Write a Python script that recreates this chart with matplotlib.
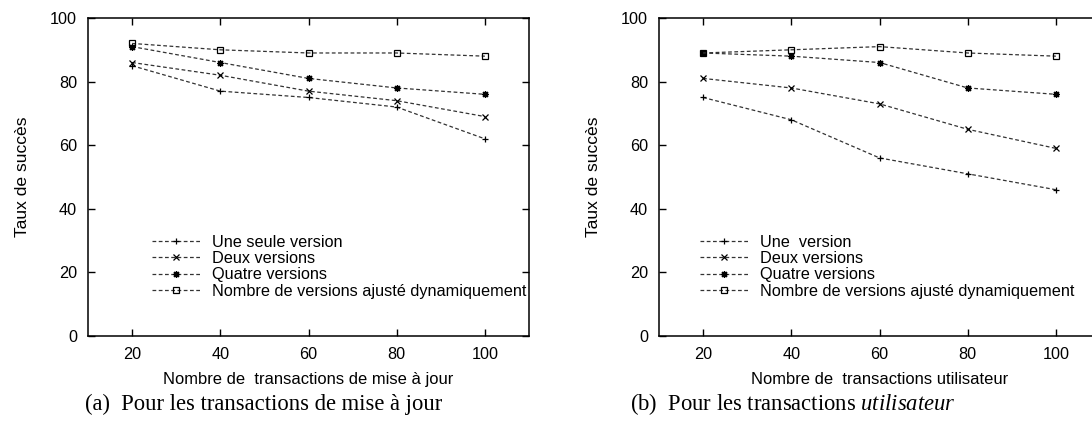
import numpy as np
import matplotlib
matplotlib.use("Agg")
import matplotlib.pyplot as plt

# =============================================================================
# DATA
# =============================================================================
x_vals = [20, 40, 60, 80, 100]

# (a) update transactions
maj_une = [85, 77, 75, 72, 62]
maj_deux = [86, 82, 77, 74, 69]
maj_quatre = [91, 86, 81, 78, 76]
maj_dyn = [92, 90, 89, 89, 88]

# (b) user transactions
usr_une = [75, 68, 56, 51, 46]
usr_deux = [81, 78, 73, 65, 59]
usr_quatre = [89, 88, 86, 78, 76]
usr_dyn = [89, 90, 91, 89, 88]

labels_a = ["Une seule version", "Deux versions", "Quatre versions",
            "Nombre de versions ajusté dynamiquement"]
labels_b = ["Une  version", "Deux versions", "Quatre versions",
            "Nombre de versions ajusté dynamiquement"]

x_ticks = [20, 40, 60, 80, 100]
y_ticks = [0, 20, 40, 60, 80, 100]

# =============================================================================
# STYLE
# =============================================================================
plt.rcParams.update({
    "font.family": ["Liberation Sans", "DejaVu Sans"],
    "mathtext.fontset": "custom",
    "mathtext.rm": "Liberation Serif",
    "mathtext.it": "Liberation Serif:italic",
})

size = 11.7
markers = ["+", "x", (8, 2, 0), "s"]
msizes = [5, 4, 5, 4]
lc = "#333333"

W, H = 1092, 423
fig = plt.figure(figsize=(W / 100, H / 100), dpi=100)


def pix_axes(left, top, right, bottom):
    return fig.add_axes([left / W, 1 - bottom / H, (right - left) / W,
                         (bottom - top) / H])


def draw_panel(ax, series, labels, xlabel, leg_x):
    for j, y in enumerate(series):
        ax.plot(x_vals, y, color=lc, linestyle=(0, (3, 2)), linewidth=0.9,
                marker=markers[j], markersize=msizes[j], markeredgewidth=0.9,
                markerfacecolor="none", markeredgecolor="black",
                label=labels[j])
    ax.set_xlim(10, 110)
    ax.set_ylim(0, 100)
    ax.set_xticks(x_ticks)
    ax.set_yticks(y_ticks)
    ax.tick_params(direction="in", length=5, width=1, top=True, right=True,
                   labelsize=size, pad=8)
    for s in ax.spines.values():
        s.set_linewidth(1.1)
    ax.set_xlabel(xlabel, fontsize=11.9, labelpad=7)
    ax.set_ylabel("Taux de succès", fontsize=12.6, labelpad=14)
    ax.legend(loc="upper left", bbox_to_anchor=(leg_x, 0.318), frameon=False,
              fontsize=size, handlelength=3.0, handletextpad=0.7,
              labelspacing=0.08, borderpad=0, borderaxespad=0)


ax_a = pix_axes(88, 18, 529, 336)
draw_panel(ax_a, [maj_une, maj_deux, maj_quatre, maj_dyn], labels_a,
           "Nombre de  transactions de mise à jour", 0.145)

ax_b = pix_axes(659, 18, 1100, 336)
draw_panel(ax_b, [usr_une, usr_deux, usr_quatre, usr_dyn], labels_b,
           "Nombre de  transactions utilisateur", 0.093)

fig.text(264 / W, 1 - 404 / H, "(a)  Pour les transactions de mise à jour",
         family="Liberation Serif", fontsize=16.3, ha="center", va="center")
fig.text(793 / W, 1 - 404 / H,
         r"(b)  Pour les transactions $\mathit{utilisateur}$",
         family="Liberation Serif", fontsize=16.3, ha="center", va="center")

fig.savefig("out.png", dpi=100)
